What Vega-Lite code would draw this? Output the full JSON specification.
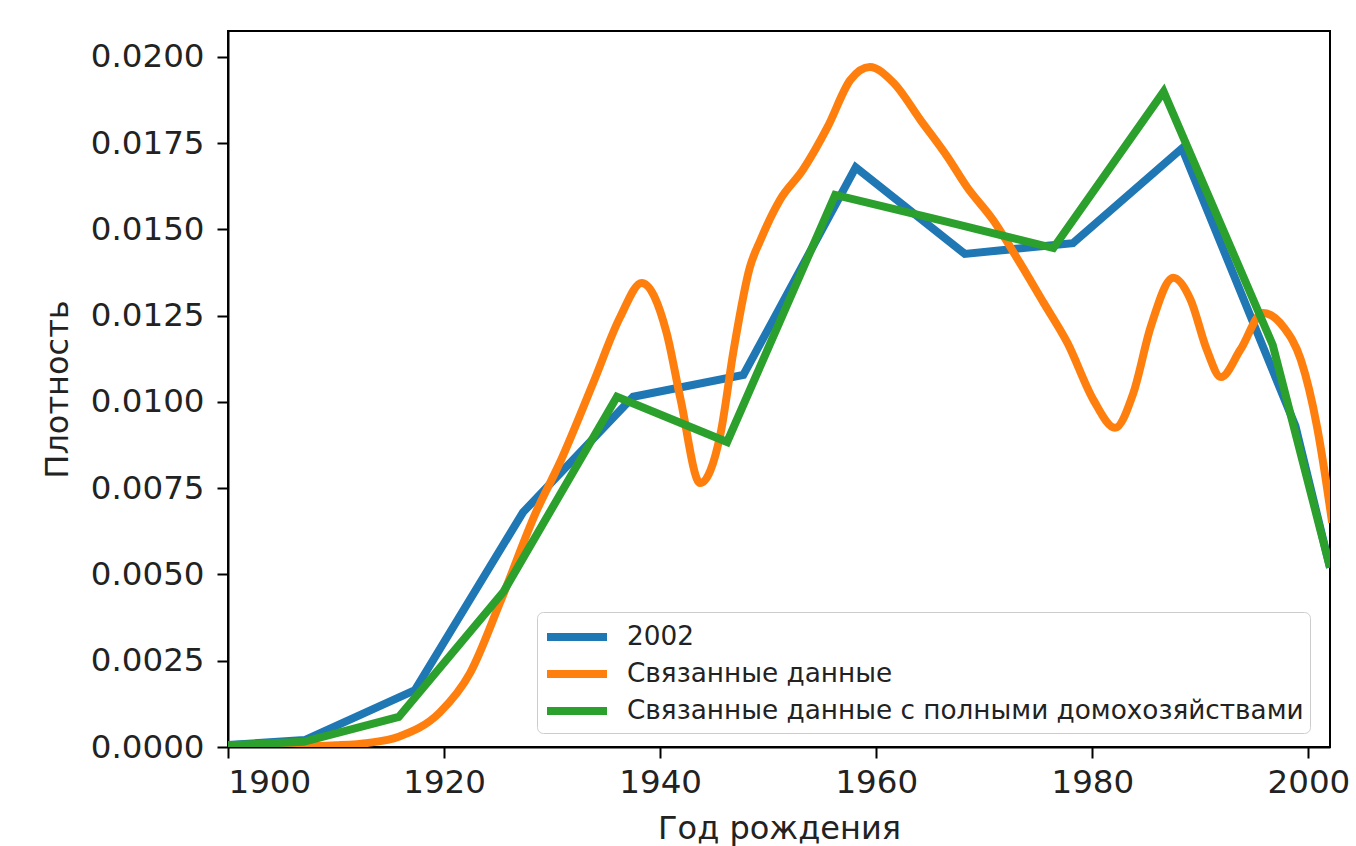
{
  "$schema": "https://vega.github.io/schema/vega-lite/v6.json",
  "autosize": "none",
  "width": 1102,
  "height": 716,
  "padding": {"left": 228, "top": 31, "right": 26, "bottom": 99},
  "background": "white",
  "config": {
    "font": "DejaVu Sans",
    "view": {"stroke": "black", "strokeWidth": 2},
    "axis": {
      "domainColor": "black", "domainWidth": 2, "tickColor": "black", "tickWidth": 2, "tickSize": 11,
      "labelFont": "DejaVu Sans", "labelFontSize": 32.5, "labelColor": "#222", "labelPadding": 13,
      "titleFont": "DejaVu Sans", "titleFontSize": 32, "titleFontWeight": "normal", "titleColor": "#222",
      "grid": false
    }
  },
  "datasets": {
    "lines": [
      {"s": "2002", "year": 1900, "v": 0.00006},
      {"s": "2002", "year": 1907.1, "v": 0.0002},
      {"s": "2002", "year": 1917.3, "v": 0.00165},
      {"s": "2002", "year": 1927.3, "v": 0.0068},
      {"s": "2002", "year": 1937.5, "v": 0.01015},
      {"s": "2002", "year": 1947.7, "v": 0.01078},
      {"s": "2002", "year": 1958.1, "v": 0.0168},
      {"s": "2002", "year": 1968.2, "v": 0.01429},
      {"s": "2002", "year": 1978.2, "v": 0.0146},
      {"s": "2002", "year": 1988.3, "v": 0.01735},
      {"s": "2002", "year": 1998.8, "v": 0.0093},
      {"s": "2002", "year": 2002, "v": 0.0052},
      {"s": "Связанные данные с полными домохозяйствами", "year": 1900, "v": 0.00005},
      {"s": "Связанные данные с полными домохозяйствами", "year": 1907.0, "v": 0.00015},
      {"s": "Связанные данные с полными домохозяйствами", "year": 1915.8, "v": 0.00087},
      {"s": "Связанные данные с полными домохозяйствами", "year": 1925.5, "v": 0.0045},
      {"s": "Связанные данные с полными домохозяйствами", "year": 1936.0, "v": 0.01015},
      {"s": "Связанные данные с полными домохозяйствами", "year": 1946.2, "v": 0.00884},
      {"s": "Связанные данные с полными домохозяйствами", "year": 1956.2, "v": 0.016},
      {"s": "Связанные данные с полными домохозяйствами", "year": 1966.2, "v": 0.01525},
      {"s": "Связанные данные с полными домохозяйствами", "year": 1976.4, "v": 0.01446},
      {"s": "Связанные данные с полными домохозяйствами", "year": 1986.6, "v": 0.01899},
      {"s": "Связанные данные с полными домохозяйствами", "year": 1996.7, "v": 0.01165},
      {"s": "Связанные данные с полными домохозяйствами", "year": 2002, "v": 0.0052}
    ],
    "orange": [
      {"s": "Связанные данные", "year": 1900, "v": 0.0},
      {"s": "Связанные данные", "year": 1905, "v": 0.00001},
      {"s": "Связанные данные", "year": 1910, "v": 0.00005},
      {"s": "Связанные данные", "year": 1913, "v": 0.00012},
      {"s": "Связанные данные", "year": 1915.8, "v": 0.0003},
      {"s": "Связанные данные", "year": 1919.6, "v": 0.001},
      {"s": "Связанные данные", "year": 1922.4, "v": 0.00214},
      {"s": "Связанные данные", "year": 1925.2, "v": 0.0042},
      {"s": "Связанные данные", "year": 1928.6, "v": 0.00687},
      {"s": "Связанные данные", "year": 1930.7, "v": 0.00823},
      {"s": "Связанные данные", "year": 1933.8, "v": 0.01055},
      {"s": "Связанные данные", "year": 1936.3, "v": 0.01246},
      {"s": "Связанные данные", "year": 1938.3, "v": 0.01345},
      {"s": "Связанные данные", "year": 1940.6, "v": 0.012},
      {"s": "Связанные данные", "year": 1941.9, "v": 0.01006},
      {"s": "Связанные данные", "year": 1943.7, "v": 0.00765},
      {"s": "Связанные данные", "year": 1945.6, "v": 0.0091},
      {"s": "Связанные данные", "year": 1946.8, "v": 0.0115},
      {"s": "Связанные данные", "year": 1948.3, "v": 0.0139},
      {"s": "Связанные данные", "year": 1949.3, "v": 0.0147},
      {"s": "Связанные данные", "year": 1951.1, "v": 0.01586},
      {"s": "Связанные данные", "year": 1953.2, "v": 0.01672},
      {"s": "Связанные данные", "year": 1955.5, "v": 0.01797},
      {"s": "Связанные данные", "year": 1957.6, "v": 0.01933},
      {"s": "Связанные данные", "year": 1959.4, "v": 0.01971},
      {"s": "Связанные данные", "year": 1961.6, "v": 0.01925},
      {"s": "Связанные данные", "year": 1964.1, "v": 0.01817},
      {"s": "Связанные данные", "year": 1966.6, "v": 0.0171},
      {"s": "Связанные данные", "year": 1968.4, "v": 0.01623},
      {"s": "Связанные данные", "year": 1970.8, "v": 0.01528},
      {"s": "Связанные данные", "year": 1973.3, "v": 0.01403},
      {"s": "Связанные данные", "year": 1975.5, "v": 0.01287},
      {"s": "Связанные данные", "year": 1977.7, "v": 0.01171},
      {"s": "Связанные данные", "year": 1980.1, "v": 0.01006},
      {"s": "Связанные данные", "year": 1982.1, "v": 0.00925},
      {"s": "Связанные данные", "year": 1983.8, "v": 0.01026},
      {"s": "Связанные данные", "year": 1985.4, "v": 0.01217},
      {"s": "Связанные данные", "year": 1987.5, "v": 0.0136},
      {"s": "Связанные данные", "year": 1989.1, "v": 0.01296},
      {"s": "Связанные данные", "year": 1990.6, "v": 0.01151},
      {"s": "Связанные данные", "year": 1991.9, "v": 0.01072},
      {"s": "Связанные данные", "year": 1993.7, "v": 0.01151},
      {"s": "Связанные данные", "year": 1995.8, "v": 0.01258},
      {"s": "Связанные данные", "year": 1997.7, "v": 0.01217},
      {"s": "Связанные данные", "year": 1999.3, "v": 0.01122},
      {"s": "Связанные данные", "year": 2000.8, "v": 0.00928},
      {"s": "Связанные данные", "year": 2001.8, "v": 0.00736},
      {"s": "Связанные данные", "year": 2002.2, "v": 0.0065}
    ]
  },
  "encoding": {
    "x": {"field": "year", "type": "quantitative",
      "scale": {"domain": [1900, 2002], "nice": false, "zero": false},
      "axis": {"values": [1900, 1920, 1940, 1960, 1980, 2000], "format": "d", "title": "Год рождения", "titlePadding": 15, "labelPadding": 8}},
    "y": {"field": "v", "type": "quantitative",
      "scale": {"domain": [0, 0.02075], "nice": false},
      "axis": {"values": [0, 0.0025, 0.005, 0.0075, 0.01, 0.0125, 0.015, 0.0175, 0.02], "format": ".4f", "title": "Плотность", "titlePadding": 16}},
    "color": {"field": "s", "type": "nominal",
      "scale": {"domain": ["2002", "Связанные данные", "Связанные данные с полными домохозяйствами"], "range": ["#1f77b4", "#ff7f0e", "#2ca02c"]},
      "legend": {
        "title": null, "orient": "none", "legendX": 309, "legendY": 581,
        "symbolType": "M-1,0H3", "symbolSize": 900, "symbolStrokeWidth": 8, "symbolFillColor": "transparent",
        "labelFont": "DejaVu Sans", "labelFontSize": 26.3, "labelColor": "#222", "labelOffset": 46, "labelLimit": 0,
        "rowPadding": 2, "padding": 6, "fillColor": "white", "strokeColor": "#cccccc", "cornerRadius": 6
      }}
  },
  "layer": [
    {"data": {"name": "lines"}, "transform": [{"filter": "datum.s == '2002'"}],
      "mark": {"type": "line", "strokeWidth": 8, "clip": true, "strokeJoin": "miter"}},
    {"data": {"name": "orange"},
      "mark": {"type": "line", "strokeWidth": 8, "clip": true, "interpolate": "monotone"}},
    {"data": {"name": "lines"}, "transform": [{"filter": "datum.s != '2002'"}],
      "mark": {"type": "line", "strokeWidth": 8, "clip": true, "strokeJoin": "miter"}}
  ]
}
